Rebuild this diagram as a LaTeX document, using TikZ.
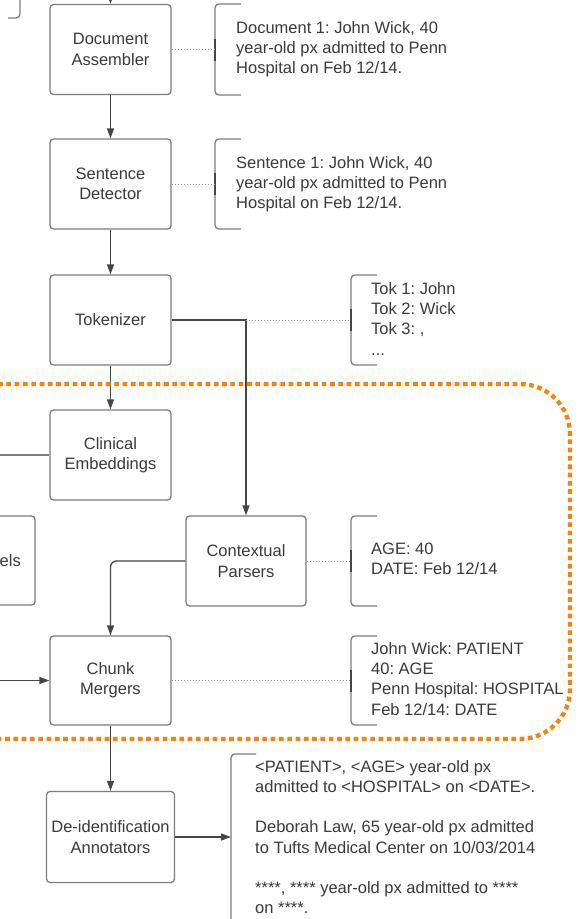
\documentclass[tikz,border=0pt]{standalone}
\usepackage{fontspec}
\setmainfont{Liberation Sans}
\usetikzlibrary{arrows.meta,calc}
\definecolor{boxgray}{RGB}{125,125,125}
\definecolor{txtgray}{RGB}{58,58,58}
\definecolor{arrgray}{RGB}{70,70,70}
\definecolor{dotgray}{RGB}{150,150,150}
\definecolor{orng}{RGB}{240,135,10}
\newcommand\fs{\rule{0pt}{14pt}}
\newcommand\brkt[5]{%
  \coordinate (#1) at (#2,{(#3+#4)/2});
  \draw[brk] ({#2+#5},#3) -- (#2,#3) -- (#2,#4) -- ({#2+#5},#4);
  \draw[nub] (#2,{(#3+#4)/2-11}) -- (#2,{(#3+#4)/2+11});}
\frenchspacing
\begin{document}
\begin{tikzpicture}[x=1pt,y=-1pt,
  font=\fontsize{16.5}{20.3}\selectfont, text=txtgray,
  box/.style={draw=boxgray, line width=1.3pt, rounded corners=3.5pt, minimum width=121pt,
    minimum height=90pt, align=center, inner sep=0pt, fill=white},
  arr/.style={draw=arrgray, line width=1.3pt, -{Triangle[length=10pt,width=7pt]}},
  ln/.style={draw=boxgray, line width=1.2pt},
  dotl/.style={draw=dotgray, line width=1pt, dash pattern=on 1pt off 2pt},
  brk/.style={draw=boxgray, line width=1.3pt, rounded corners=4pt},
  nub/.style={draw=arrgray, line width=2.4pt},
  txt/.style={anchor=north west, align=left, inner sep=0pt},
  orangeline/.style={draw=orng, line width=4.3pt, dash pattern=on 4.7pt off 3.6pt, rounded corners=50pt}]
\useasboundingbox (0,0) rectangle (578,919);
\clip (0,0) rectangle (578,919);
\fill[white] (0,0) rectangle (578,919);

% boxes
\node[box] (doc) at (110.5,49.5) {Document\\Assembler};
\node[box] (sent) at (110.5,184) {Sentence\\Detector};
\node[box] (tok) at (110.5,320) {Tokenizer};
\node[box] (clin) at (110.5,455) {Clinical\\Embeddings};
\node[box, minimum width=120pt] (ctx) at (246,561) {Contextual\\Parsers};
\node[box, minimum height=89pt] (chunk) at (110.5,680.5) {Chunk\\Mergers};
\node[box, minimum width=128pt, minimum height=91pt] (deid) at (110.5,837) {De-identification\\Annotators};
\node[box, minimum width=135pt, minimum height=89pt] (models) at (-32.5,560.5) {};
\node[anchor=base east, inner sep=0pt] (modelstxt) at (21,566) {els};

% brackets
\brkt{docbr}{215}{4}{95}{26}
\brkt{sentbr}{215}{139}{229}{26}
\brkt{tokbr}{351}{275}{365}{26}
\brkt{ctxbr}{351}{516}{606}{26}
\brkt{chunkbr}{351}{636}{725}{26}
\coordinate (outbr) at (231,837);
\draw[brk] (256,754) -- (231,754) -- (231,1000);
\draw[brk] (20,-10) -- (20,18) -- (8,18);

% connectors
\coordinate (topin) at (110.5,-30);
\draw[arr] (topin) -- (doc.north);
\draw[arr] (doc.south) -- (sent.north);
\draw[arr] (sent.south) -- (tok.north);
\draw[arr] (tok.south) -- (clin.north);
\draw[arr] (tok.east) -| (ctx.north);
\draw[arr, rounded corners=6pt] (ctx.west) -| (chunk.north);
\draw[arr] (chunk.south) -- (deid.north);
\draw[arr] (deid.east) -- (outbr);
\coordinate (clinin) at (-10,455);
\draw[ln] (clinin) -- (clin.west);
\coordinate (chunkin) at (-10,680.5);
\draw[arr] (chunkin) -- (chunk.west);

\draw[dotl] (doc.east) -- (docbr);
\draw[dotl] (sent.east) -- (sentbr);
\draw[dotl] (ctx.north |- tok.east) -- (tokbr);
\draw[dotl] (ctx.east) -- (ctxbr);
\draw[dotl] (chunk.east) -- (chunkbr);

% orange region
\draw[orangeline] (-60,384) rectangle (570,739);

% texts
\node[txt] (doctxt) at (236,19) {\fs Document 1: John Wick, 40\\year-old px admitted to Penn\\Hospital on Feb 12/14.};
\node[txt] (senttxt) at (236,154) {\fs Sentence 1: John Wick, 40\\year-old px admitted to Penn\\Hospital on Feb 12/14.};
\node[txt] (toktxt) at (371,280) {\fs Tok 1: John\\Tok 2: Wick\\Tok 3: ,\\...};
\node[txt] (ctxtxt) at (371,540) {\fs AGE: 40\\DATE: Feb 12/14};
\node[txt] (chunktxt) at (371,640) {\fs John Wick: PATIENT\\40: AGE\\Penn Hospital: HOSPITAL\\Feb 12/14: DATE};
\node[txt] (outtxt) at (255,758) {\fs <PATIENT>, <AGE> year-old px\\admitted to <HOSPITAL> on <DATE>.\\[20pt]Deborah Law, 65 year-old px admitted\\to Tufts Medical Center on 10/03/2014\\[20pt]****, **** year-old px admitted to ****\\on ****.};
\end{tikzpicture}
\end{document}
